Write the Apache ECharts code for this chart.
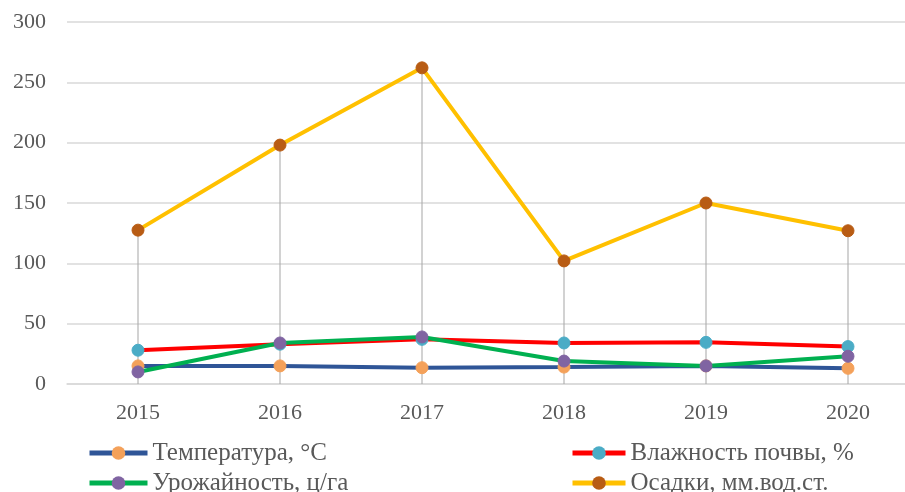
<!DOCTYPE html>
<html><head><meta charset="utf-8">
<script src="https://cdn.jsdelivr.net/npm/echarts@6/dist/echarts.min.js"></script>
<style>html,body{margin:0;padding:0;background:#fff}#c{width:905px;height:492px}</style>
</head><body><div id="c"></div>
<script>
const years = ['2015','2016','2017','2018','2019','2020'];
const temperature = [15, 15, 13.5, 14, 15, 13];
const humidity = [28, 33, 37, 34, 34.5, 31];
const yieldVals = [10, 34, 39, 19, 15, 23];
const precipitation = [127.5, 198, 262, 102, 150, 127];
const yTicks = {min: 0, max: 300, interval: 50};
const names = ['Температура, °С', 'Влажность почвы, %', 'Урожайность, ц/га', 'Осадки, мм.вод.ст.'];

const font = '"Liberation Serif", "Times New Roman", serif';
function lineSeries(name, data, lineColor, markColor, z) {
  return {
    name, type: 'line', data, z,
    symbol: 'circle', symbolSize: 12,
    lineStyle: {color: lineColor, width: 4},
    itemStyle: {color: markColor, borderColor: markColor, borderWidth: 1},
    emphasis: {disabled: true}
  };
}
const chart = echarts.init(document.getElementById('c'), null, {renderer: 'canvas'});
const legendText = {color: '#595959', fontFamily: font, fontSize: 25, lineHeight: 26};
function leg(name, left, top, w) {
  return {data: [name], left, top, padding: 0, itemWidth: w, itemHeight: 17,
          textStyle: legendText, itemStyle: {borderWidth: 0}, lineStyle: {width: 5}};
}
chart.setOption({
  animation: false,
  grid: {left: 67, width: 852, top: 22, bottom: 108, outerBoundsMode: 'none', containLabel: false},
  xAxis: {
    type: 'category', data: years, boundaryGap: true,
    axisLine: {show: true, lineStyle: {color: '#D9D9D9', width: 1.5}},
    axisTick: {show: false},
    axisLabel: {color: '#595959', fontFamily: font, fontSize: 22, margin: 18}
  },
  yAxis: {
    type: 'value', min: yTicks.min, max: yTicks.max, interval: yTicks.interval,
    axisLine: {show: false}, axisTick: {show: false},
    splitLine: {lineStyle: {color: '#D9D9D9', width: 1.5}},
    axisLabel: {color: '#595959', fontFamily: font, fontSize: 22, margin: 21}
  },
  legend: [
    leg(names[0], 87, 440, 58),
    leg(names[2], 87, 470, 58),
    leg(names[1], 570, 440, 53),
    leg(names[3], 570, 470, 53)
  ],
  series: [
    {type: 'bar', data: precipitation, barWidth: 1, itemStyle: {color: '#A6A6A6'}, z: 1, silent: true},
    lineSeries(names[0], temperature, '#2F5597', '#F4A15A', 2),
    lineSeries(names[1], humidity, '#FF0000', '#4BACC6', 3),
    lineSeries(names[2], yieldVals, '#00B050', '#8064A2', 4),
    lineSeries(names[3], precipitation, '#FFC000', '#B85C14', 5)
  ]
});
</script></body></html>
